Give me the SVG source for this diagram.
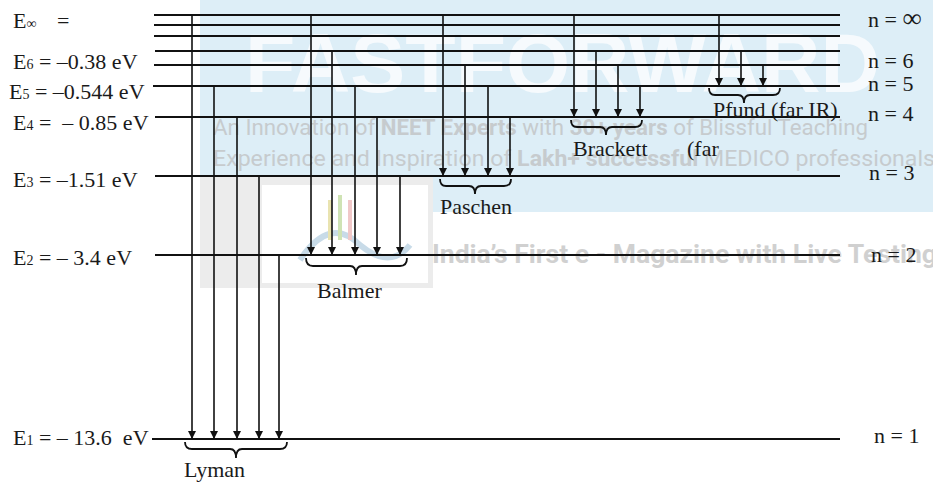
<svg xmlns="http://www.w3.org/2000/svg" width="933" height="483" viewBox="0 0 933 483">
<style>
.lvl{stroke:#111;stroke-width:2;fill:none}
.tr{stroke:#111;stroke-width:1.6;fill:none;marker-end:url(#ah)}
.br{stroke:#111;stroke-width:1.8;fill:none}
.t{font-family:"Liberation Serif","Times New Roman",serif;font-size:22px;fill:#1a1a1a}
.sub{font-size:14px}
.wm{font-family:Roboto,"Liberation Sans",sans-serif;fill:#bdbdbd;opacity:0.7}
</style>
<defs>
<marker id="ah" viewBox="0 0 10 10" refX="10" refY="5" markerWidth="10" markerHeight="8" markerUnits="userSpaceOnUse" orient="auto">
<path d="M0,0 L10,5 L0,10 z" fill="#111"/>
</marker>
</defs>
<rect width="933" height="483" fill="#fff"/>
<g id="watermark">
<rect x="200" y="0" width="733" height="212" fill="#ddeef7"/>
<text x="245" y="92" font-family="'Liberation Sans',Arial,sans-serif" font-weight="bold" font-size="84" fill="#f6fafd" textLength="635" lengthAdjust="spacingAndGlyphs">FASTFORWARD</text>
<text class="wm" x="213" y="135" font-size="22" textLength="655" lengthAdjust="spacingAndGlyphs">An Innovation of <tspan font-weight="bold">NEET Experts</tspan> with <tspan font-weight="bold">30+ years</tspan> of Blissful Teaching</text>
<text class="wm" x="213" y="166" font-size="22" textLength="722" lengthAdjust="spacingAndGlyphs">Experience and Inspiration of <tspan font-weight="bold">Lakh+ successful</tspan> MEDICO professionals</text>
<rect x="200" y="177" width="233" height="111" fill="#ececec"/>
<rect x="262" y="185" width="166" height="98" fill="#ffffff"/>
<path d="M300,260 Q330,215 360,245 Q390,270 410,245" fill="none" stroke="#c8dbe8" stroke-width="6"/>
<line x1="330" y1="200" x2="330" y2="240" stroke="#e9e3b0" stroke-width="4"/>
<line x1="340" y1="195" x2="340" y2="240" stroke="#cfe3b4" stroke-width="4"/>
<line x1="350" y1="200" x2="350" y2="240" stroke="#f0c8c8" stroke-width="4"/>
<text class="wm" x="432" y="263" font-size="26" font-weight="bold" textLength="505" lengthAdjust="spacingAndGlyphs">India’s First e - Magazine with Live Testing</text>
</g>
<g id="levels">
<g id="level-inf">
<line class="lvl" x1="154" y1="15" x2="840" y2="15"/>
<line class="lvl" x1="154" y1="25" x2="840" y2="25"/>
<line class="lvl" x1="154" y1="36" x2="840" y2="36"/>
<text class="t" x="13" y="28">E<tspan class="sub" font-size="13">∞</tspan><tspan x="57">=</tspan></text>
<text class="t" x="868" y="27">n = <tspan font-size="27">∞</tspan></text>
</g>
<g id="level-extra">
<line class="lvl" x1="155" y1="51" x2="840" y2="51"/>
</g>
<g id="level-6">
<line class="lvl" x1="154" y1="65" x2="840" y2="65"/>
<text class="t" x="13" y="69">E<tspan class="sub">6</tspan> = –0.38 eV</text>
<text class="t" x="868" y="68">n = 6</text>
</g>
<g id="level-5">
<line class="lvl" x1="153" y1="86" x2="840" y2="86"/>
<text class="t" x="9" y="99">E<tspan class="sub">5</tspan> = –0.544 eV</text>
<text class="t" x="868" y="91">n = 5</text>
</g>
<g id="level-4">
<line class="lvl" x1="155" y1="117" x2="840" y2="117"/>
<text class="t" x="13" y="130" xml:space="preserve">E<tspan class="sub">4</tspan> =  – 0.85 eV</text>
<text class="t" x="868" y="121">n = 4</text>
</g>
<g id="level-3">
<line class="lvl" x1="155" y1="176" x2="840" y2="176"/>
<text class="t" x="13" y="187">E<tspan class="sub">3</tspan> = –1.51 eV</text>
<text class="t" x="869" y="180">n = 3</text>
</g>
<g id="level-2">
<line class="lvl" x1="155" y1="255" x2="840" y2="255"/>
<text class="t" x="13" y="265">E<tspan class="sub">2</tspan> = – 3.4 eV</text>
<text class="t" x="871" y="262">n = 2</text>
</g>
<g id="level-1">
<line class="lvl" x1="152" y1="439" x2="840" y2="439"/>
<text class="t" x="13" y="445" xml:space="preserve">E<tspan class="sub">1</tspan> = – 13.6  eV</text>
<text class="t" x="874" y="443">n = 1</text>
</g>
</g>
<g id="connectors">
<line class="tr" x1="192" y1="15" x2="192" y2="439"/>
<line class="tr" x1="214" y1="86" x2="214" y2="439"/>
<line class="tr" x1="237" y1="117" x2="237" y2="439"/>
<line class="tr" x1="259" y1="176" x2="259" y2="439"/>
<line class="tr" x1="279" y1="255" x2="279" y2="439"/>
<line class="tr" x1="311" y1="15" x2="311" y2="255"/>
<line class="tr" x1="332" y1="51" x2="332" y2="255"/>
<line class="tr" x1="355" y1="86" x2="355" y2="255"/>
<line class="tr" x1="377" y1="117" x2="377" y2="255"/>
<line class="tr" x1="400" y1="176" x2="400" y2="255"/>
<line class="tr" x1="443" y1="15" x2="443" y2="176"/>
<line class="tr" x1="465" y1="65" x2="465" y2="176"/>
<line class="tr" x1="488" y1="86" x2="488" y2="176"/>
<line class="tr" x1="510" y1="117" x2="510" y2="176"/>
<line class="tr" x1="574" y1="15" x2="574" y2="117"/>
<line class="tr" x1="596" y1="51" x2="596" y2="117"/>
<line class="tr" x1="618" y1="65" x2="618" y2="117"/>
<line class="tr" x1="640" y1="86" x2="640" y2="117"/>
<line class="tr" x1="719" y1="15" x2="719" y2="86"/>
<line class="tr" x1="741" y1="51" x2="741" y2="86"/>
<line class="tr" x1="763" y1="65" x2="763" y2="86"/>
</g>
<g id="series-lyman">
<path class="br" d="M185,442 Q185,449 192,449 L230,449 Q236,449 236,458 Q236,449 242,449 L280,449 Q287,449 287,442"/>
<text class="t" x="184" y="477">Lyman</text>
</g>
<g id="series-balmer">
<path class="br" d="M306,258 Q306,266 313,266 L350,266 Q356,266 356,275 Q356,266 362,266 L400,266 Q407,266 407,258"/>
<text class="t" x="317" y="298">Balmer</text>
</g>
<g id="series-paschen">
<path class="br" d="M440,179 Q440,186 446,186 L469,186 Q475,186 475,194 Q475,186 481,186 L504,186 Q511,186 511,179"/>
<text class="t" x="440" y="214">Paschen</text>
</g>
<g id="series-brackett">
<path class="br" d="M571,120 Q571,127 577,127 L600,127 Q606,127 606,135 Q606,127 612,127 L635,127 Q642,127 642,120"/>
<text class="t" x="573" y="156">Brackett</text>
<text class="t" x="687" y="156">(far</text>
</g>
<g id="series-pfund">
<path class="br" d="M709,88 Q709,95 715,95 L738,95 Q744,95 744,103 Q744,95 750,95 L773,95 Q780,95 780,88"/>
<text class="t" x="713" y="117">Pfund (far IR)</text>
</g>
</svg>
